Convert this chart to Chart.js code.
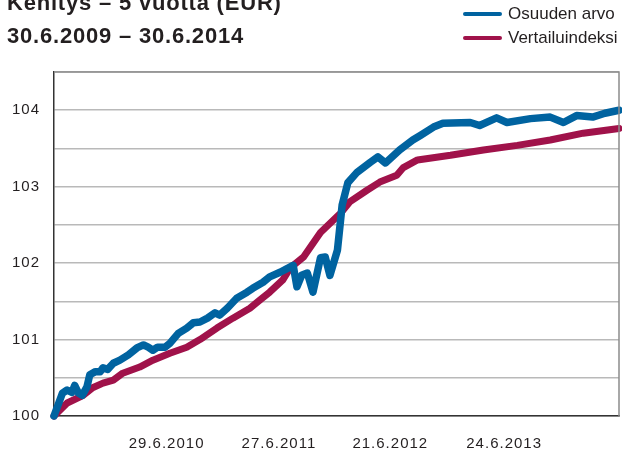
<!DOCTYPE html>
<html>
<head>
<meta charset="utf-8">
<script src="https://cdn.jsdelivr.net/npm/chart.js@4"></script>
<style>
  body { margin: 0; background: #fff; }
  #wrap { position: relative; width: 622px; height: 453px; overflow: hidden; font-family: "Liberation Sans", Arial, sans-serif; color: #231f20; }
  #chart { position: absolute; left: 0; top: 0; }
  .title { position: absolute; left: 7px; font-weight: bold; font-size: 22px; letter-spacing: 0.8px; white-space: nowrap; }
  .legend { position: absolute; left: 463px; font-size: 17px; white-space: nowrap; }
  .legend span.line { position: absolute; left: 0; width: 39px; height: 4px; border-radius: 2px; }
  .legend span.txt { position: absolute; left: 45px; line-height: 20px; }
</style>
</head>
<body>
<div id="wrap">
  <canvas id="chart" width="622" height="453"></canvas>
  <div class="title" style="top:-10px">Kehitys – 5 vuotta (EUR)</div>
  <div class="title" style="top:23px">30.6.2009 – 30.6.2014</div>
  <div class="legend" style="top:4px"><span class="line" style="top:8px;background:#0063a0"></span><span class="txt">Osuuden arvo</span></div>
  <div class="legend" style="top:28px"><span class="line" style="top:8px;background:#a0124a"></span><span class="txt">Vertailuindeksi</span></div>
</div>
<script>
// months since 30.6.2009
const startDate = new Date(2009, 5, 30);

const seriesNames = ["Osuuden arvo", "Vertailuindeksi"];

const blueMonths = [0, 0.9, 1.4, 1.9, 2.2, 2.6, 3.0, 3.5, 3.8, 4.4, 4.9, 5.2, 5.7, 6.3, 7.0, 7.9, 8.8, 9.5, 10.0, 10.5,
  11.0, 11.8, 12.3, 13.2, 14.1, 14.8, 15.5, 16.3, 17.1, 17.6, 18.4, 19.4, 20.5, 21.1, 22.2, 22.9, 24.0, 25.1, 25.4, 25.8,
  26.3, 26.9, 27.5, 28.3, 28.8, 29.3, 30.1, 30.6, 31.2, 32.2, 33.6, 34.4, 35.2, 36.7, 38.1, 38.9, 40.3, 41.3, 44.2, 45.2,
  47.0, 48.1, 50.6, 52.7, 54.1, 55.5, 57.2, 58.5, 60.0];
const blueValues = [100.0, 100.3, 100.34, 100.31, 100.4, 100.3, 100.27, 100.38, 100.54, 100.58, 100.58, 100.63, 100.61, 100.69, 100.73, 100.8, 100.89, 100.93, 100.9, 100.86,
  100.9, 100.9, 100.95, 101.08, 101.15, 101.22, 101.23, 101.28, 101.35, 101.32, 101.41, 101.54, 101.62, 101.67, 101.75, 101.82, 101.88, 101.95, 101.97, 101.69,
  101.84, 101.87, 101.62, 102.07, 102.08, 101.84, 102.17, 102.76, 103.05, 103.19, 103.32, 103.39, 103.31, 103.48, 103.61, 103.67, 103.78, 103.83, 103.84, 103.80,
  103.90, 103.84, 103.89, 103.91, 103.84, 103.93, 103.91, 103.96, 104.0];

const redMonths = [0, 1.4, 3.1, 4.1, 5.2, 6.3, 7.3, 9.1, 10.5, 12.3, 14.1, 15.5, 17.3, 19.0, 20.8, 21.9, 22.9, 24.3, 25.1, 26.5,
  28.3, 30.4, 31.4, 33.2, 34.6, 36.4, 37.1, 38.6, 42.1, 45.6, 49.2, 52.7, 56.2, 60.0];
const redValues = [100.0, 100.17, 100.27, 100.37, 100.43, 100.47, 100.56, 100.64, 100.73, 100.82, 100.90, 101.0, 101.15, 101.28, 101.41, 101.52, 101.62, 101.78, 101.94, 102.08,
  102.40, 102.65, 102.80, 102.95, 103.06, 103.15, 103.25, 103.35, 103.41, 103.48, 103.54, 103.61, 103.70, 103.76];

const tickLabels = ["29.6.2010", "27.6.2011", "21.6.2012", "24.6.2013"];
const yTickLabels = [100, 101, 102, 103, 104];

function toMonths(label) {
  const [d, m, y] = label.split(".").map(Number);
  const days = (new Date(y, m - 1, d) - startDate) / 86400000;
  return days / (365.25 / 12);
}
const tickMonths = tickLabels.map(toMonths);

const frame = {
  id: "frame",
  beforeDraw(chart) { chart.ctx.letterSpacing = "1px"; },
  afterDatasetsDraw(chart) {
    const { ctx, chartArea: a } = chart;
    ctx.save();
    ctx.strokeStyle = "#8c8c8c";
    ctx.lineWidth = 1.5;
    ctx.beginPath();
    ctx.moveTo(a.left, a.top);
    ctx.lineTo(a.right, a.top);
    ctx.lineTo(a.right, a.bottom);
    ctx.stroke();
    ctx.restore();
  }
};

new Chart(document.getElementById("chart"), {
  type: "line",
  data: {
    datasets: [
      {
        label: seriesNames[0],
        data: blueMonths.map((m, i) => ({ x: m, y: blueValues[i] })),
        borderColor: "#0063a0",
        borderWidth: 7.5,
        borderCapStyle: "round",
        borderJoinStyle: "round",
        pointRadius: 0,
        tension: 0,
        clip: 6
      },
      {
        label: seriesNames[1],
        data: redMonths.map((m, i) => ({ x: m, y: redValues[i] })),
        borderColor: "#a0124a",
        borderWidth: 7,
        borderCapStyle: "round",
        borderJoinStyle: "round",
        pointRadius: 0,
        tension: 0,
        clip: 6
      }
    ]
  },
  options: {
    responsive: false,
    animation: false,
    layout: { padding: { top: 72, right: 3, left: 0, bottom: 0 } },
    plugins: { legend: { display: false }, tooltip: { enabled: false } },
    scales: {
      x: {
        type: "linear",
        min: 0,
        max: 60,
        afterBuildTicks: (scale) => { scale.ticks = tickMonths.map((v) => ({ value: v })); },
        afterFit: (scale) => { scale.height = 37; },
        grid: { display: false, drawTicks: false },
        border: { color: "#333", width: 1.5 },
        ticks: {
          padding: 19,
          maxRotation: 0,
          autoSkip: false,
          color: "#231f20",
          font: { family: "Liberation Sans", size: 15 },
          callback: (v, i) => tickLabels[i]
        }
      },
      y: {
        min: 100,
        max: 104.5,
        afterFit: (scale) => { scale.width = 54; },
        grid: { color: "#b9b9b9", lineWidth: 1.5, drawTicks: false },
        border: { color: "#333", width: 1.5 },
        ticks: {
          stepSize: 0.5,
          padding: 14,
          color: "#231f20",
          font: { family: "Liberation Sans", size: 15 },
          callback: (v) => (yTickLabels.includes(v) ? String(v) : "")
        }
      }
    }
  },
  plugins: [frame]
});
</script>
</body>
</html>
